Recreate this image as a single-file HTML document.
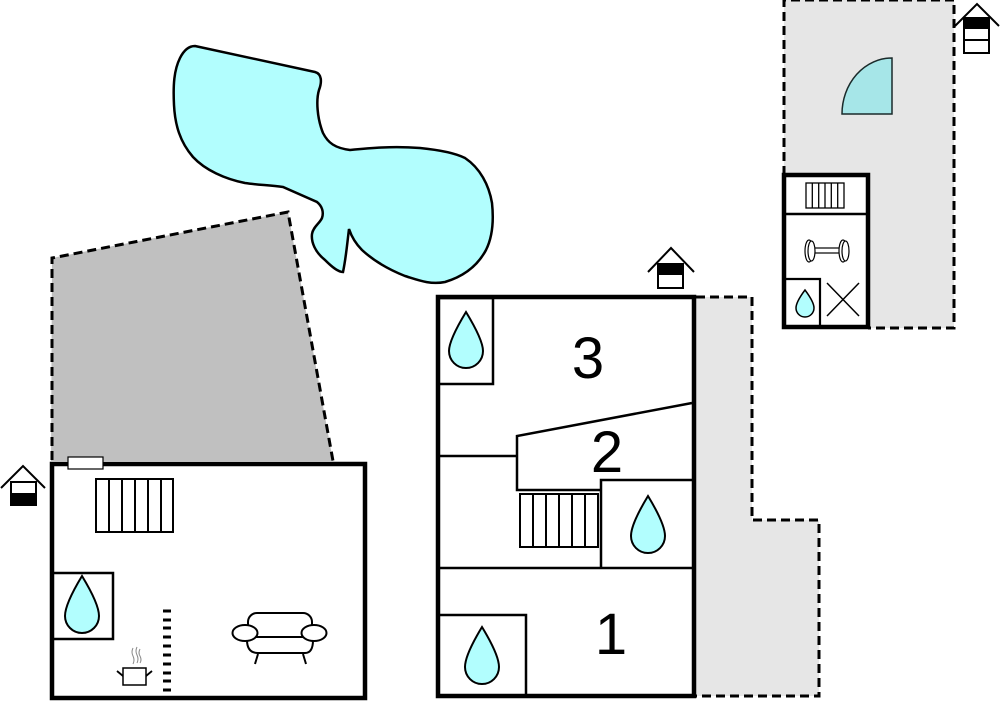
<!DOCTYPE html>
<html><head><meta charset="utf-8"><style>html,body{margin:0;padding:0;background:#fff;}svg{display:block;}</style></head>
<body>
<svg width="1000" height="703" viewBox="0 0 1000 703" xmlns="http://www.w3.org/2000/svg">
<!-- pool -->
<path d="M195,46 L315,72 C322,74 322,82 319,90 C316,100 317,118 323,133 C328,143 335,148 350,150 C370,148 392,146 420,148 C440,150 455,153 465,158 C480,168 489,185 492,203 C494,222 492,238 486,250 C478,265 465,276 445,282 C430,285 418,280 405,276 C390,270 375,262 362,250 C356,244 352,238 349,229 C347,245 346,258 343,272 C338,272 332,267 325,260 C315,252 311,242 312,234 C313,227 320,223 322,218 C324,212 322,206 317,202 L283,187 C270,185 258,185 245,183 C225,179 205,170 193,157 C180,142 175,125 174,105 C173,85 174,70 180,58 C184,50 189,46 195,46 Z" fill="#b2fefe" stroke="#000" stroke-width="2.5"/>
<!-- gray left terrace -->
<polygon points="52,258 288,212 333,461 51,461" fill="#c0c0c0"/>
<polyline points="52,460 52,258 288,212 333,461" fill="none" stroke="#000" stroke-width="3" stroke-dasharray="9,5"/>
<!-- right middle terrace -->
<polygon points="694,297 752,297 752,520 819,520 819,696 694,696" fill="#e6e6e6"/>
<polyline points="696,297 752,297 752,520 819,520 819,696 696,696" fill="none" stroke="#000" stroke-width="3" stroke-dasharray="9,5"/>
<!-- top right terrace -->
<polygon points="784,0 954,0 954,328 784,328" fill="#e6e6e6"/>
<polyline points="784,175 784,0 954,0 954,328 868,328" fill="none" stroke="#000" stroke-width="3" stroke-dasharray="9,5"/>

<!-- LEFT BUILDING -->
<rect x="52" y="464" width="313" height="234" fill="#fff" stroke="#000" stroke-width="4.5"/>
<rect x="68" y="457" width="35" height="12" fill="#fff" stroke="#000" stroke-width="1.2"/>
<g fill="none" stroke="#000" stroke-width="2">
<rect x="96" y="479" width="77" height="53"/>
<line x1="109" y1="479" x2="109" y2="532"/><line x1="122" y1="479" x2="122" y2="532"/><line x1="135" y1="479" x2="135" y2="532"/><line x1="148" y1="479" x2="148" y2="532"/><line x1="161" y1="479" x2="161" y2="532"/>
<polyline points="52,573 113,573 113,639 52,639" stroke-width="2.5"/>
</g>
<path d="M82,576 Q99,604 99,616 A17,17 0 0 1 65,616 Q65,604 82,576 Z" fill="#b2fefe" stroke="#000" stroke-width="2"/>
<g stroke="#000" stroke-width="3">
<line x1="163" y1="611" x2="171" y2="611"/><line x1="163" y1="620" x2="171" y2="620"/><line x1="163" y1="628" x2="171" y2="628"/><line x1="163" y1="637" x2="171" y2="637"/><line x1="163" y1="646" x2="171" y2="646"/><line x1="163" y1="655" x2="171" y2="655"/><line x1="163" y1="664" x2="171" y2="664"/><line x1="163" y1="673" x2="171" y2="673"/><line x1="163" y1="681" x2="171" y2="681"/><line x1="163" y1="690" x2="171" y2="690"/>
</g>
<!-- pot -->
<rect x="123" y="668" width="23" height="17" fill="#fff" stroke="#000" stroke-width="1.5"/>
<line x1="117" y1="671" x2="123" y2="676" stroke="#000" stroke-width="1.8"/>
<line x1="146" y1="676" x2="152" y2="671" stroke="#000" stroke-width="1.8"/>
<g stroke="#888" stroke-width="1" fill="none">
<path d="M133,648 q-2,4 0,8 q2,4 0,8"/><path d="M137,647 q-2,4 0,8 q2,4 0,8"/><path d="M140,649 q-2,4 0,7 q2,4 0,7"/>
</g>
<!-- sofa -->
<g fill="#fff" stroke="#000" stroke-width="2">
<path d="M247,640 Q247,653 258,653 L305,653 Q313,653 313,640"/>
<rect x="248" y="613" width="64" height="24" rx="9"/>
<ellipse cx="245" cy="633" rx="12.5" ry="8"/>
<ellipse cx="314" cy="633" rx="12.5" ry="8"/>
<line x1="258" y1="654" x2="255" y2="664"/>
<line x1="303" y1="654" x2="306" y2="664"/>
</g>
<!-- left house icon -->
<g stroke="#000" stroke-width="2" fill="none">
<polyline points="1,488 23,466 45,488"/>
<rect x="11" y="482" width="25" height="23" fill="#fff"/>
</g>
<rect x="10" y="493" width="27" height="13" fill="#000"/>

<!-- MIDDLE BUILDING -->
<rect x="438" y="297" width="256" height="399" fill="#fff" stroke="#000" stroke-width="4.5"/>
<g fill="none" stroke="#000" stroke-width="2.5">
<polyline points="440,298 493,298 493,384 440,384"/>
<polyline points="692,403 517,436 517,490 600,490"/>
<line x1="440" y1="456" x2="517" y2="456"/>
<polyline points="692,480 601,480 601,568"/>
<line x1="440" y1="568" x2="692" y2="568"/>
<polyline points="440,615 526,615 526,694"/>
</g>
<g fill="none" stroke="#000" stroke-width="2">
<rect x="520" y="494" width="78" height="53"/>
<line x1="533" y1="494" x2="533" y2="547"/><line x1="546" y1="494" x2="546" y2="547"/><line x1="559" y1="494" x2="559" y2="547"/><line x1="572" y1="494" x2="572" y2="547"/><line x1="585" y1="494" x2="585" y2="547"/>
</g>
<g fill="#b2fefe" stroke="#000" stroke-width="2">
<path d="M466,312 Q483,340 483,351 A17,17 0 0 1 449,351 Q449,340 466,312 Z"/>
<path d="M648,496 Q665,524 665,536 A17,17 0 0 1 631,536 Q631,524 648,496 Z"/>
<path d="M482,627 Q499,655 499,667 A17,17 0 0 1 465,667 Q465,655 482,627 Z"/>
</g>
<g font-family="Liberation Sans, sans-serif" font-size="58" fill="#000" text-anchor="middle">
<text x="588" y="378">3</text>
<text x="607" y="472">2</text>
<text x="611" y="654">1</text>
</g>
<!-- middle house icon -->
<g stroke="#000" stroke-width="2" fill="none">
<polyline points="648,272 671,248 694,272"/>
<rect x="658" y="264" width="25" height="24" fill="#fff"/>
</g>
<rect x="657" y="263" width="27" height="12" fill="#000"/>

<!-- RIGHT BUILDING -->
<rect x="784" y="175" width="84" height="152" fill="#fff" stroke="#000" stroke-width="4.5"/>
<line x1="786" y1="214" x2="866" y2="214" stroke="#000" stroke-width="2.5"/>
<g fill="none" stroke="#000" stroke-width="1.3">
<rect x="806" y="183" width="38" height="25"/>
<line x1="812.3" y1="183" x2="812.3" y2="208"/><line x1="818.7" y1="183" x2="818.7" y2="208"/><line x1="825" y1="183" x2="825" y2="208"/><line x1="831.3" y1="183" x2="831.3" y2="208"/><line x1="837.7" y1="183" x2="837.7" y2="208"/>
</g>
<g fill="none" stroke="#000" stroke-width="2.2">
<polyline points="786,279 820,279 820,326"/>
<line x1="827" y1="283" x2="859" y2="316" stroke-width="1.5"/>
<line x1="859" y1="283" x2="827" y2="316" stroke-width="1.5"/>
</g>
<!-- dumbbell -->
<g fill="#fff" stroke="#000" stroke-width="1.2">
<rect x="812" y="248" width="28" height="5"/>
<ellipse cx="809" cy="251" rx="4" ry="11"/>
<ellipse cx="811.5" cy="251" rx="3.5" ry="10"/>
<ellipse cx="843" cy="251" rx="4" ry="11"/>
<ellipse cx="845.5" cy="251" rx="3.5" ry="10"/>
</g>
<path d="M805,290 Q814,302 814,308 A9,9 0 0 1 796,308 Q796,302 805,290 Z" fill="#b2fefe" stroke="#000" stroke-width="1.5"/>
<!-- door quarter circle -->
<path d="M892,114 L842,114 A50,56 0 0 1 892,58 Z" fill="#a6e6e8" stroke="#1a2a2a" stroke-width="1.5"/>
<!-- right house icon -->
<g stroke="#000" stroke-width="2" fill="none">
<polyline points="955,26 977,4 999,26"/>
<rect x="964" y="18" width="25" height="35" fill="#fff"/>
<line x1="964" y1="40" x2="989" y2="40"/>
</g>
<rect x="963" y="17" width="27" height="12" fill="#000"/>
</svg>
</body></html>
